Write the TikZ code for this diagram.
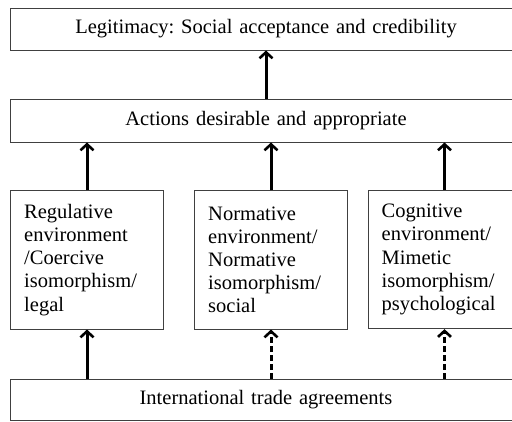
\documentclass[tikz,border=0pt]{standalone}
\usepackage{fontspec}
\setmainfont{Liberation Serif}
\usetikzlibrary{arrows.meta}
\frenchspacing
\begin{document}
\begin{tikzpicture}[x=1pt,y=-1pt,
  box/.style={draw=black!75, line width=1pt, rectangle, inner sep=0pt,
    font=\fontsize{20.5}{23.1}\selectfont},
  widebox/.style={box, minimum width=512, text width=490, align=center},
  envbox/.style={box, minimum width=152.6, minimum height=138.3,
    text width=125.6, align=left, inner xsep=13.5},
  flow/.style={line width=3pt, -{Straight Barb[length=6pt,width=13pt,line width=2.6pt]}},
  weakflow/.style={flow, dash pattern=on 6pt off 3pt}]
\useasboundingbox (0,0) rectangle (512,421);
\clip (0,0) rectangle (512,421);
\fill[white] (0,0) rectangle (512,421);

% horizontal bands
\node[widebox, minimum height=42] (legit) at (266,29)
  {Legitimacy: Social acceptance and credibility};
\node[widebox, minimum height=43] (actions) at (266,120.5)
  {Actions desirable and appropriate};
\node[widebox, minimum height=41.5] (trade) at (266,399.75)
  {International trade agreements};

% three institutional pillars
\node[envbox] (reg) at (87,259.9)
  {Regulative\\environment\\/Coercive\\isomorphism/\\legal};
\node[envbox] (norm) at (271,259.9)
  {Normative\\environment/\\Normative\\isomorphism/\\social};
\node[envbox] (cog) at (444.5,259.5)
  {Cognitive\\environment/\\Mimetic\\isomorphism/\\psychological};

% upward influences
\draw[flow] (actions.north) -- (legit.south);
\foreach \b in {reg,norm,cog}
  \draw[flow] (\b.north) -- (\b.north |- actions.south);
\draw[flow] (reg.south |- trade.north) -- (reg.south);
\draw[weakflow] (norm.south |- trade.north) -- (norm.south);
\draw[weakflow] (cog.south |- trade.north) -- (cog.south);
\end{tikzpicture}
\end{document}
